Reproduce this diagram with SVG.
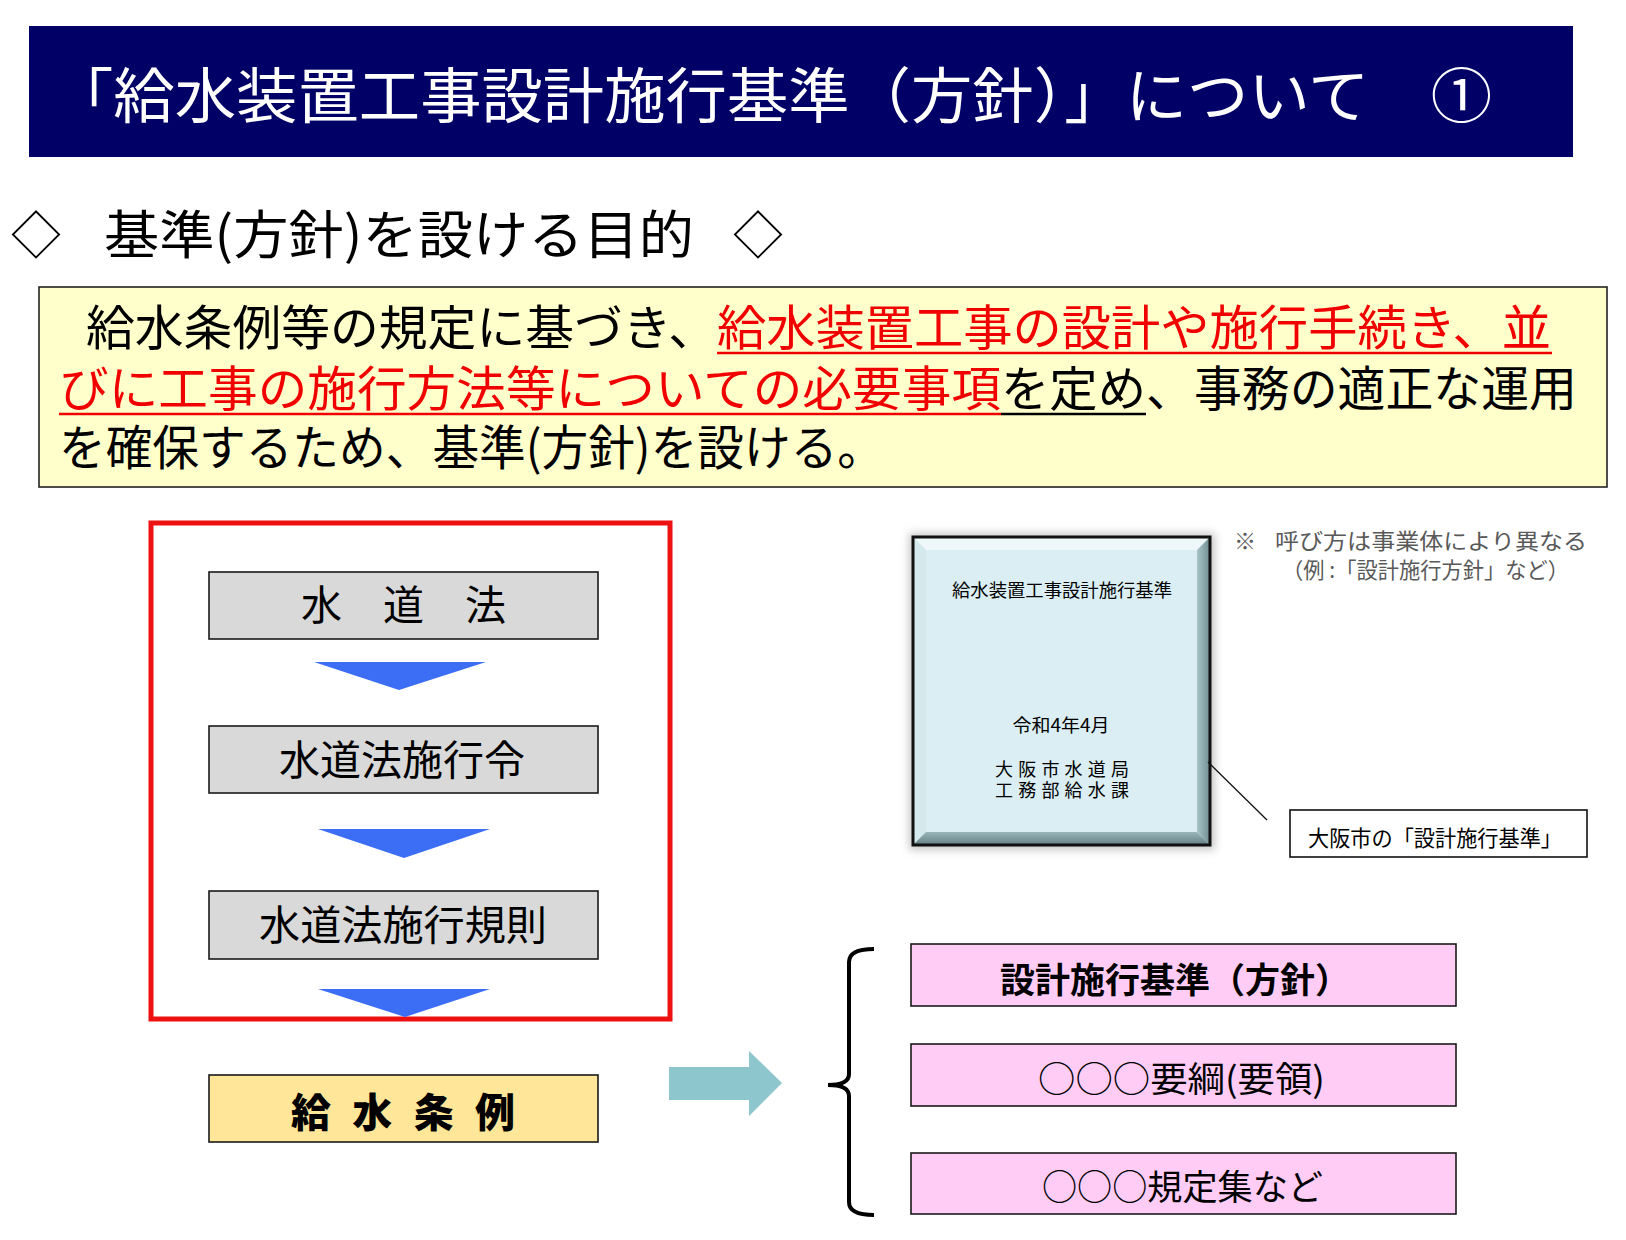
<svg xmlns="http://www.w3.org/2000/svg" width="1626" height="1240" viewBox="0 0 1626 1240">
<style>
text{font-family:'Noto Sans CJK JP','Noto Sans',sans-serif;}
.box{stroke:#1a1a1a;stroke-width:1.6;}
.gray{fill:#D9D9D9;}
.pink{fill:#FFCCF6;}
.blk{fill:#000;}
.red{fill:#F00000;}
.bt{font-size:48px;}
.gt{font-size:41px;fill:#000;}
.bk{font-size:18px;fill:#000;}
.note{font-size:22px;fill:#595959;}
.chev{fill:#3B6DF5;}
</style>
<defs>
<filter id="sh" x="-10%" y="-10%" width="120%" height="120%"><feGaussianBlur stdDeviation="4"/></filter>
<linearGradient id="rb" x1="0" y1="0" x2="1" y2="0"><stop offset="0" stop-color="#A9C4C8"/><stop offset="1" stop-color="#6F8D92"/></linearGradient>
<linearGradient id="bb" x1="0" y1="0" x2="0" y2="1"><stop offset="0" stop-color="#9BB6BA"/><stop offset="1" stop-color="#627F84"/></linearGradient>
</defs>
<rect width="1626" height="1240" fill="#fff"/>

<g id="title">
<rect x="29" y="26" width="1544" height="131" fill="#000066"/>
<text x="52" y="118" font-size="60" fill="#fff" textLength="1440" lengthAdjust="spacingAndGlyphs">「給水装置工事設計施行基準（方針）」について　①</text>
</g>

<g id="heading">
<text x="11" y="253" font-size="50" fill="#000">◇</text>
<text x="104" y="254" font-size="52" fill="#000" textLength="590" lengthAdjust="spacingAndGlyphs">基準(方針)を設ける目的</text>
<text x="733" y="253" font-size="50" fill="#000">◇</text>
</g>

<g id="purpose">
<rect x="39" y="287" width="1568" height="200" fill="#FFFFCC" stroke="#222" stroke-width="1.6"/>
<text class="bt blk" x="86" y="345" textLength="631" lengthAdjust="spacingAndGlyphs">給水条例等の規定に基づき、</text>
<text class="bt red" x="717" y="345" textLength="834" lengthAdjust="spacingAndGlyphs">給水装置工事の設計や施行手続き、並</text>
<line x1="717" y1="353" x2="1552" y2="353" stroke="#F00000" stroke-width="2.5"/>
<text class="bt red" x="59" y="406" textLength="942" lengthAdjust="spacingAndGlyphs">びに工事の施行方法等についての必要事項</text>
<text class="bt blk" x="1001" y="406" textLength="145" lengthAdjust="spacingAndGlyphs">を定め</text>
<text class="bt blk" x="1146" y="406" textLength="431" lengthAdjust="spacingAndGlyphs">、事務の適正な運用</text>
<line x1="59" y1="414" x2="1001" y2="414" stroke="#F00000" stroke-width="2.5"/>
<line x1="1001" y1="414" x2="1146" y2="414" stroke="#000" stroke-width="2.5"/>
<text class="bt blk" x="59" y="465" textLength="825" lengthAdjust="spacingAndGlyphs">を確保するため、基準(方針)を設ける。</text>
</g>

<g id="law-frame">
<rect x="151" y="523" width="519" height="496" fill="none" stroke="#EE1111" stroke-width="5"/>
</g>

<g id="suidoho">
<rect class="box gray" x="209" y="572" width="389" height="67"/>
<text class="gt" x="403.5" y="620" font-size="40" text-anchor="middle">水　道　法</text>
</g>
<g id="shikorei">
<rect class="box gray" x="209" y="726" width="389" height="67"/>
<text class="gt" x="402" y="775" text-anchor="middle" textLength="246" lengthAdjust="spacingAndGlyphs">水道法施行令</text>
</g>
<g id="shikokisoku">
<rect class="box gray" x="209" y="891" width="389" height="68"/>
<text class="gt" x="403" y="940" text-anchor="middle" textLength="288" lengthAdjust="spacingAndGlyphs">水道法施行規則</text>
</g>
<g id="jorei">
<rect class="box" x="209" y="1075" width="389" height="67" fill="#FFE699"/>
<text x="291" y="1127" font-size="40" font-weight="900" fill="#000" textLength="224" lengthAdjust="spacing">給 水 条 例</text>
</g>

<g id="book">
<rect x="909" y="533" width="306" height="317" fill="#9a9a9a" opacity="0.55" filter="url(#sh)"/>
<rect x="913" y="537" width="297" height="308" fill="#DAEEF3"/>
<polygon points="913,537 1210,537 1197,550 926,550" fill="#EEF8FA"/>
<polygon points="913,537 926,550 926,832 913,845" fill="#D3E9EC"/>
<polygon points="1210,537 1210,845 1197,832 1197,550" fill="url(#rb)"/>
<polygon points="913,845 1210,845 1197,832 926,832" fill="url(#bb)"/>
<rect x="913" y="537" width="297" height="308" fill="none" stroke="#111" stroke-width="3"/>
<text class="bk" x="1062" y="597" text-anchor="middle" textLength="220" lengthAdjust="spacingAndGlyphs">給水装置工事設計施行基準</text>
<text class="bk" x="1061" y="732" text-anchor="middle" textLength="97" lengthAdjust="spacingAndGlyphs">令和4年4月</text>
<text class="bk" x="1062" y="776" text-anchor="middle" textLength="134" lengthAdjust="spacing">大阪市水道局</text>
<text class="bk" x="1062" y="797" text-anchor="middle" textLength="134" lengthAdjust="spacing">工務部給水課</text>
</g>

<g id="note">
<text class="note" x="1234" y="549">※</text>
<text class="note" x="1275" y="549" textLength="312" lengthAdjust="spacingAndGlyphs">呼び方は事業体により異なる</text>
<text class="note" x="1282" y="578" textLength="287" lengthAdjust="spacingAndGlyphs">（例 :「設計施行方針」など）</text>
</g>

<g id="osaka-label">
<rect x="1290" y="810" width="297" height="47" fill="#fff" stroke="#111" stroke-width="1.6"/>
<text x="1308" y="846" font-size="22" fill="#000" textLength="254" lengthAdjust="spacingAndGlyphs">大阪市の「設計施行基準」</text>
</g>

<g id="std-a">
<rect class="box pink" x="911" y="944" width="545" height="62"/>
<text x="1000" y="993" font-size="35" font-weight="700" fill="#000" textLength="350" lengthAdjust="spacingAndGlyphs">設計施行基準（方針）</text>
</g>
<g id="std-b">
<rect class="box pink" x="911" y="1044" width="545" height="62"/>
<text x="1038" y="1092" font-size="35" fill="#000" textLength="287" lengthAdjust="spacingAndGlyphs">○○○要綱(要領)</text>
</g>
<g id="std-c">
<rect class="box pink" x="911" y="1153" width="545" height="61"/>
<text x="1042" y="1200" font-size="35" fill="#000" textLength="281" lengthAdjust="spacingAndGlyphs">○○○規定集など</text>
</g>

<g id="connectors">
<polygon class="chev" points="314,662 486,662 399,690"/>
<polygon class="chev" points="318,829 490,829 404,858"/>
<polygon class="chev" points="318,989 490,989 405,1017"/>
<polygon points="669,1067 749,1067 749,1051 782,1083 749,1116 749,1100 669,1100" fill="#8EC6CE"/>
<line x1="1208" y1="762" x2="1267" y2="820" stroke="#111" stroke-width="1.3"/>
<path d="M874,949 Q849,949 849,962 L849,1074 Q849,1085 828,1085 Q849,1085 849,1096 L849,1202 Q849,1215 874,1215" fill="none" stroke="#000" stroke-width="4"/>
</g>
</svg>
